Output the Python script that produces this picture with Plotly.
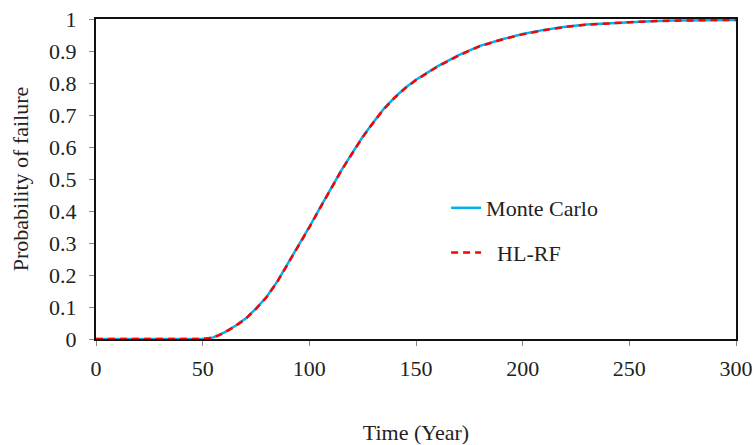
import plotly.graph_objects as go

time_years = [0, 10, 20, 30, 40, 50, 55, 60, 65, 70, 75, 80, 85, 90, 95, 100, 105, 110,
              115, 120, 125, 130, 135, 140, 145, 150, 160, 170, 180, 190, 200, 210, 220,
              230, 240, 250, 260, 270, 280, 290, 300]
monte_carlo = [0, 0, 0, 0, 0, 0, 0.005, 0.02, 0.04, 0.063, 0.095, 0.132, 0.18, 0.236, 0.292,
               0.35, 0.41, 0.47, 0.527, 0.58, 0.632, 0.677, 0.72, 0.755, 0.785, 0.81, 0.852,
               0.887, 0.916, 0.936, 0.953, 0.966, 0.976, 0.983, 0.987, 0.99, 0.993, 0.995,
               0.996, 0.997, 0.997]
hl_rf = [0, 0, 0, 0, 0, 0, 0.004, 0.019, 0.039, 0.062, 0.094, 0.131, 0.179, 0.235, 0.291,
         0.349, 0.409, 0.469, 0.526, 0.579, 0.631, 0.676, 0.719, 0.754, 0.784, 0.809, 0.851,
         0.886, 0.915, 0.935, 0.952, 0.965, 0.975, 0.982, 0.987, 0.99, 0.993, 0.995,
         0.996, 0.997, 0.997]

x_ticks = [0, 50, 100, 150, 200, 250, 300]
y_ticks = [0, 0.1, 0.2, 0.3, 0.4, 0.5, 0.6, 0.7, 0.8, 0.9, 1]
y_tick_labels = ["0", "0.1", "0.2", "0.3", "0.4", "0.5", "0.6", "0.7", "0.8", "0.9", "1"]

font_family = "Liberation Serif, Times New Roman, serif"
fsize = 22

fig = go.Figure()
fig.add_trace(go.Scatter(x=time_years, y=monte_carlo, mode="lines", name="Monte Carlo",
                         legendgroup="a",
                         line=dict(color="#00B0F0", width=2.5)))
fig.add_trace(go.Scatter(x=time_years, y=hl_rf, mode="lines", name="\u00a0\u00a0HL-RF",
                         legendgroup="b",
                         line=dict(color="#FF0000", width=2.5, dash="7px,5px")))

axis_common = dict(
    showgrid=False, zeroline=False, showline=True, linecolor="#111", linewidth=2,
    mirror=True, ticks="outside", ticklen=5, tickcolor="#888", tickwidth=1,
    automargin=False,
    tickfont=dict(family=font_family, size=fsize, color="#222"),
)

fig.update_layout(
    width=756, height=445,
    margin=dict(l=96, r=20, t=19, b=106),
    paper_bgcolor="white", plot_bgcolor="white",
    font=dict(family=font_family, size=fsize, color="#222"),
    showlegend=True,
    legend=dict(x=0.547, y=0.475, xanchor="left", yanchor="top",
                bgcolor="rgba(0,0,0,0)", tracegroupgap=13,
                font=dict(family=font_family, size=fsize, color="#222")),
    xaxis=dict(range=[0, 300], tickvals=x_ticks, ticklabelstandoff=4, **axis_common,
               title=dict(text="Time (Year)", standoff=50,
                          font=dict(family=font_family, size=fsize, color="#222"))),
    yaxis=dict(range=[0, 1], tickvals=y_ticks, ticktext=y_tick_labels,
               ticklabelstandoff=8, **axis_common,
               title=dict(text="Probability of failure", standoff=14,
                          font=dict(family=font_family, size=fsize, color="#222"))),
)

fig.write_html("out.html")
